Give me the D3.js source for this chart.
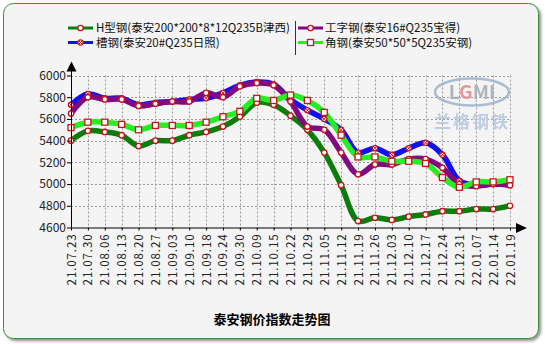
<!DOCTYPE html>
<html>
<head>
<meta charset="utf-8">
<script src="https://cdn.jsdelivr.net/npm/d3@7/dist/d3.min.js"></script>
<style>
  html, body { margin: 0; padding: 0; background: #ffffff; }
  svg { display: block; }
  text { font-family: "Noto Sans CJK SC", "Noto Sans", sans-serif; }
</style>
</head>
<body>
<svg id="chart" width="545" height="344"></svg>
<script>
// Weekly price index dates
const dates = ["21.07.23","21.07.30","21.08.06","21.08.13","21.08.20","21.08.27","21.09.03",
  "21.09.10","21.09.18","21.09.24","21.09.30","21.10.09","21.10.15","21.10.22","21.10.29",
  "21.11.05","21.11.12","21.11.19","21.11.26","21.12.03","21.12.10","21.12.17","21.12.24",
  "21.12.31","22.01.07","22.01.14","22.01.19"];

// Series prices (yuan/ton)
const hBeam   = [5400,5490,5480,5450,5350,5400,5400,5450,5480,5530,5620,5750,5730,5630,5500,
  5290,4990,4660,4690,4670,4700,4720,4750,4750,4770,4770,4800];
const channel = [5730,5830,5790,5790,5730,5750,5760,5780,5790,5840,5910,5940,5920,5780,5680,
  5600,5500,5290,5330,5270,5330,5380,5270,5030,4990,5000,4990];
const iBeam   = [5650,5800,5780,5780,5720,5740,5760,5760,5840,5800,5900,5930,5910,5760,5530,
  5500,5290,5090,5180,5180,5230,5230,5150,5000,4980,5000,4990];
const angle   = [5520,5570,5570,5550,5500,5540,5540,5540,5570,5620,5670,5790,5770,5820,5770,
  5660,5450,5250,5250,5210,5210,5190,5060,4970,5020,5020,5040];

const seriesNames = ["H型钢(泰安200*200*8*12Q235B津西)","槽钢(泰安20#Q235日照)",
  "工字钢(泰安16#Q235宝得)","角钢(泰安50*50*5Q235安钢)"];
const yTicks = [4600,4800,5000,5200,5400,5600,5800,6000];
const title = "泰安钢价指数走势图";

const series = [
  {name: seriesNames[0], values: hBeam,   color: "#0b7d0b", marker: "circle"},
  {name: seriesNames[1], values: channel, color: "#1010f0", marker: "cross"},
  {name: seriesNames[2], values: iBeam,   color: "#800a80", marker: "circle"},
  {name: seriesNames[3], values: angle,   color: "#22f022", marker: "square"}
];

const svg = d3.select("#chart");
const defs = svg.append("defs");
const shadow = defs.append("filter").attr("id", "shadow")
  .attr("x", "-5%").attr("y", "-5%").attr("width", "110%").attr("height", "110%");
shadow.append("feGaussianBlur").attr("in", "SourceAlpha").attr("stdDeviation", 1.6).attr("result", "b");
shadow.append("feOffset").attr("in", "b").attr("dx", 2).attr("dy", 2).attr("result", "o");
shadow.append("feComponentTransfer").attr("in", "o").attr("result", "s")
  .append("feFuncA").attr("type", "linear").attr("slope", 0.45);
const merge = shadow.append("feMerge");
merge.append("feMergeNode").attr("in", "s");
merge.append("feMergeNode").attr("in", "SourceGraphic");

// Frame
svg.append("rect")
  .attr("x", 3.5).attr("y", 3.5).attr("width", 535).attr("height", 335)
  .attr("rx", 10).attr("ry", 10)
  .attr("fill", "#f4f4f4").attr("stroke", "#3f8a3f").attr("stroke-width", 1)
  .attr("filter", "url(#shadow)");

// Scales
const x = d3.scalePoint().domain(dates).range([71, 510]);
const y = d3.scaleLinear().domain([4600, 6000]).range([227.5, 75.5]);

// Grid
const grid = svg.append("g").attr("stroke", "#9a9a9a").attr("stroke-width", 1)
  .attr("stroke-dasharray", "2,2");
grid.selectAll("line.h").data(yTicks.slice(1)).join("line")
  .attr("x1", 71).attr("x2", 510)
  .attr("y1", d => Math.round(y(d)) + 0.5).attr("y2", d => Math.round(y(d)) + 0.5);
grid.selectAll("line.v").data(dates.slice(1)).join("line")
  .attr("x1", d => Math.round(x(d)) + 0.5).attr("x2", d => Math.round(x(d)) + 0.5)
  .attr("y1", y(6000)).attr("y2", y(4600));

// Watermark logo
const logo = svg.append("g").attr("opacity", 0.85);
logo.append("ellipse").attr("cx", 472).attr("cy", 92).attr("rx", 37).attr("ry", 13.5)
  .attr("fill", "none").attr("stroke", "#9fb2cc").attr("stroke-width", 2.5);
const lg = logo.append("text").attr("x", 472).attr("y", 99).attr("text-anchor", "middle")
  .attr("font-size", 19).attr("font-weight", "bold")
  .attr("font-family", "'Liberation Sans', Arial, sans-serif");
lg.append("tspan").attr("fill", "#a3aab4").text("L");
lg.append("tspan").attr("fill", "#e7858f").text("G");
lg.append("tspan").attr("fill", "#a3aab4").text("M");
lg.append("tspan").attr("fill", "#a3aab4").text("I");
logo.append("text").attr("x", 472).attr("y", 128).attr("text-anchor", "middle")
  .attr("font-size", 17).attr("font-weight", "bold").attr("fill", "#b4c6de")
  .attr("letter-spacing", 2).text("兰格钢铁");

// Lines
const line = d3.line()
  .x((d, i) => x(dates[i]))
  .y(d => y(d))
  .curve(d3.curveCatmullRom.alpha(0.5));

const lineG = svg.append("g");
series.forEach(s => {
  lineG.append("path").datum(s.values)
    .attr("d", line)
    .attr("fill", "none")
    .attr("stroke", s.color)
    .attr("stroke-width", 5.5)
    .attr("stroke-linejoin", "round")
    .attr("stroke-linecap", "round");
});

function drawMarker(g, type, cx, cy) {
  const red = "#c8141e";
  if (type === "square") {
    g.append("rect").attr("x", cx - 3).attr("y", cy - 3).attr("width", 6).attr("height", 6)
      .attr("fill", "#ffffff").attr("stroke", red).attr("stroke-width", 1.3);
  } else if (type === "cross") {
    g.append("circle").attr("cx", cx).attr("cy", cy).attr("r", 2.6)
      .attr("fill", "#ffffff").attr("stroke", red).attr("stroke-width", 1.2);
    g.append("path")
      .attr("d", `M${cx-2},${cy-2}L${cx+2},${cy+2}M${cx-2},${cy+2}L${cx+2},${cy-2}`)
      .attr("stroke", red).attr("stroke-width", 1);
  } else {
    g.append("circle").attr("cx", cx).attr("cy", cy).attr("r", 2.7)
      .attr("fill", "#ffffff").attr("stroke", red).attr("stroke-width", 1.3);
  }
}

// Markers
const markG = svg.append("g");
series.forEach(s => {
  s.values.forEach((v, i) => drawMarker(markG, s.marker, x(dates[i]), y(v)));
});

// Y axis
const yAxis = svg.append("g").attr("transform", "translate(71,0)")
  .call(d3.axisLeft(y).tickValues(yTicks).tickSize(4).tickPadding(1).tickFormat(d3.format("d")));
yAxis.select(".domain").remove();
yAxis.selectAll("text").attr("font-size", 12).attr("fill", "#222")
  .attr("font-family", "'Liberation Sans', Arial, sans-serif");
yAxis.selectAll("line").attr("stroke", "#000");

// X axis
const xAxis = svg.append("g").attr("transform", `translate(0,${y(4600)})`)
  .call(d3.axisBottom(x).tickSize(3).tickPadding(4));
xAxis.select(".domain").remove();
xAxis.selectAll("line").attr("stroke", "#000");
xAxis.selectAll("text")
  .attr("font-size", 11.5).attr("fill", "#222")
  .attr("font-family", "'Liberation Sans', Arial, sans-serif")
  .attr("letter-spacing", 0.9)
  .attr("text-anchor", "end")
  .attr("transform", "rotate(-90)")
  .attr("x", -6).attr("y", 0).attr("dy", "0.35em");

// Axis lines with arrows
svg.append("line").attr("x1", 71.5).attr("x2", 71.5).attr("y1", y(4600)).attr("y2", 70)
  .attr("stroke", "#000").attr("stroke-width", 1);
svg.append("path").attr("d", "M71.5,61.5L66.5,71.5L76.5,71.5Z").attr("fill", "#000");
svg.append("line").attr("x1", 71).attr("x2", 518).attr("y1", y(4600) + 0.5).attr("y2", y(4600) + 0.5)
  .attr("stroke", "#000").attr("stroke-width", 1);
svg.append("path").attr("d", `M527,${y(4600)+0.5}L516,${y(4600)-4.5}L516,${y(4600)+5.5}Z`).attr("fill", "#000");

// Legend
const legend = svg.append("g");
const legendPos = [
  {x: 68, y: 28, tx: 96},
  {x: 68, y: 42.5, tx: 96},
  {x: 298, y: 28, tx: 325},
  {x: 298, y: 42.5, tx: 325}
];
series.forEach((s, i) => {
  const p = legendPos[i];
  legend.append("line").attr("x1", p.x).attr("x2", p.x + 25).attr("y1", p.y).attr("y2", p.y)
    .attr("stroke", s.color).attr("stroke-width", 3);
  drawMarker(legend, s.marker, p.x + 12.5, p.y);
  legend.append("text").attr("x", p.tx).attr("y", p.y).attr("dy", "0.36em")
    .attr("font-size", 11.5).attr("fill", "#111").text(s.name);
});
legend.append("line").attr("x1", 295.5).attr("x2", 295.5).attr("y1", 21).attr("y2", 55)
  .attr("stroke", "#333").attr("stroke-width", 1);

// Title
svg.append("text").attr("x", 272).attr("y", 324).attr("text-anchor", "middle")
  .attr("font-size", 13).attr("font-weight", "bold").attr("fill", "#000").text(title);
</script>
</body>
</html>
